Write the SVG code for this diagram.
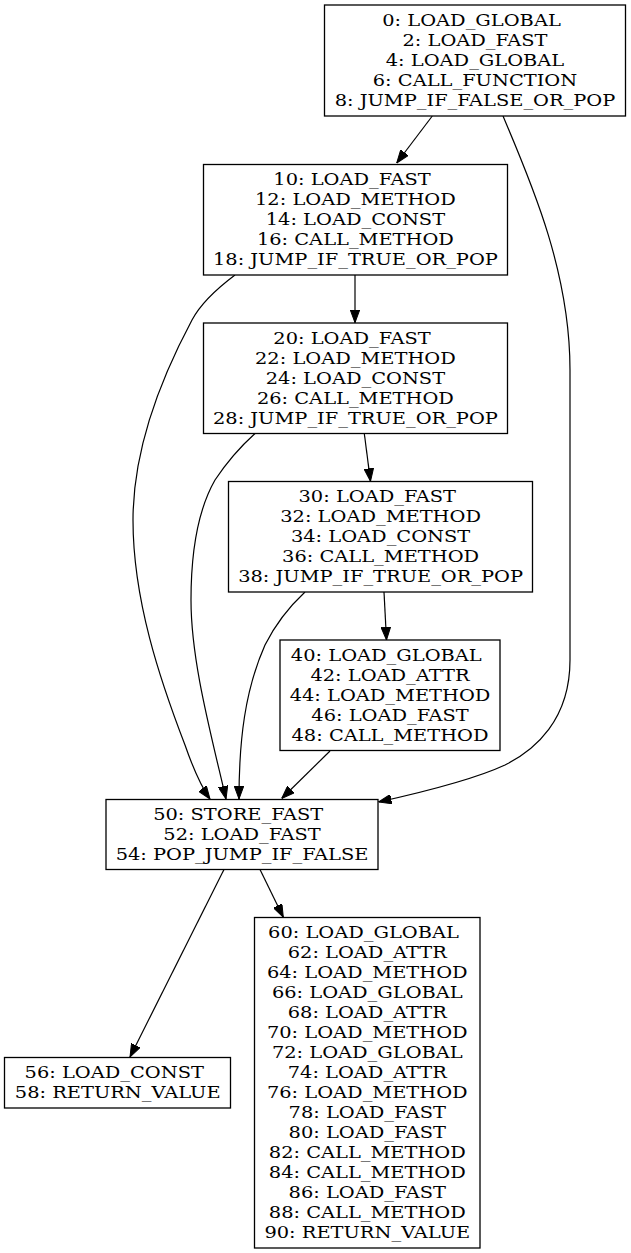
<svg xmlns="http://www.w3.org/2000/svg" width="631" height="1253" viewBox="0 0 631 1253">
<style>
.box{fill:#fff;stroke:#000;stroke-width:1.3}
.t{font-family:"DejaVu Serif","Liberation Serif",serif;font-size:17.2px;fill:#000;text-anchor:middle}
.e{fill:none;stroke:#000;stroke-width:1.2}
</style>
<defs>
<marker id="ah" viewBox="0 0 13 9.6" refX="13" refY="4.8" markerWidth="13" markerHeight="9.6" markerUnits="userSpaceOnUse" orient="auto">
<path d="M0,0 L13,4.8 L0,9.6 z" fill="#000" stroke="#000" stroke-width="1"/>
</marker>
</defs>
<rect width="631" height="1253" fill="#fff"/>
<g id="edges">
<path class="e" marker-end="url(#ah)" d="M432.3,116 L396.7,163"/>
<path class="e" marker-end="url(#ah)" d="M503,116 C530,180 570,270 570,370 L570,660 C570,720 535,750 505,765 C475,779 428,791 378.5,802"/>
<path class="e" marker-end="url(#ah)" d="M355,275 L355,322.7"/>
<path class="e" marker-end="url(#ah)" d="M235,275 C215,290 200,305 192,320 C160,380 133,450 133,520 C133,600 160,680 185,745 C193,768 200,785 210,799"/>
<path class="e" marker-end="url(#ah)" d="M255,433.5 C240,447 225,465 215,480 C195,515 191,560 191,600 C191,660 210,730 226,799"/>
<path class="e" marker-end="url(#ah)" d="M364.3,433.5 L370.5,481.3"/>
<path class="e" marker-end="url(#ah)" d="M305,592 C290,606 275,625 265,645 C245,690 239,740 239,799"/>
<path class="e" marker-end="url(#ah)" d="M384,592 L386.5,640"/>
<path class="e" marker-end="url(#ah)" d="M330,751 L281.7,798.5"/>
<path class="e" marker-end="url(#ah)" d="M224,869.5 L130,1057"/>
<path class="e" marker-end="url(#ah)" d="M260,869.5 L283.3,917.3"/>
</g>
<g id="n0">
<rect class="box" x="324.5" y="5" width="301" height="111"/>
<g transform="translate(475 0) scale(1.128 1)">
<text class="t" x="-3.1" y="26">0: LOAD_GLOBAL</text>
<text class="t" x="0" y="46">2: LOAD_FAST</text>
<text class="t" x="0" y="66">4: LOAD_GLOBAL</text>
<text class="t" x="0" y="86">6: CALL_FUNCTION</text>
<text class="t" x="0" y="106">8: JUMP_IF_FALSE_OR_POP</text>
</g>
</g>
<g id="n10">
<rect class="box" x="203.5" y="164.5" width="304" height="110.5"/>
<g transform="translate(355.4 0) scale(1.128 1)">
<text class="t" x="-3" y="185.5">10: LOAD_FAST</text>
<text class="t" x="0" y="205.5">12: LOAD_METHOD</text>
<text class="t" x="0" y="225.5">14: LOAD_CONST</text>
<text class="t" x="0" y="245.5">16: CALL_METHOD</text>
<text class="t" x="0" y="265.5">18: JUMP_IF_TRUE_OR_POP</text>
</g>
</g>
<g id="n20">
<rect class="box" x="203.5" y="323" width="304" height="110.5"/>
<g transform="translate(355.4 0) scale(1.128 1)">
<text class="t" x="-3" y="344">20: LOAD_FAST</text>
<text class="t" x="0" y="364">22: LOAD_METHOD</text>
<text class="t" x="0" y="384">24: LOAD_CONST</text>
<text class="t" x="0" y="404">26: CALL_METHOD</text>
<text class="t" x="0" y="424">28: JUMP_IF_TRUE_OR_POP</text>
</g>
</g>
<g id="n30">
<rect class="box" x="228.5" y="481.5" width="304" height="110.5"/>
<g transform="translate(380.6 0) scale(1.128 1)">
<text class="t" x="-3" y="502.5">30: LOAD_FAST</text>
<text class="t" x="0" y="522.5">32: LOAD_METHOD</text>
<text class="t" x="0" y="542.5">34: LOAD_CONST</text>
<text class="t" x="0" y="562.5">36: CALL_METHOD</text>
<text class="t" x="0" y="582.5">38: JUMP_IF_TRUE_OR_POP</text>
</g>
</g>
<g id="n40">
<rect class="box" x="280" y="640" width="220" height="110.5"/>
<g transform="translate(390 0) scale(1.128 1)">
<text class="t" x="-3.3" y="661">40: LOAD_GLOBAL</text>
<text class="t" x="0" y="681">42: LOAD_ATTR</text>
<text class="t" x="0" y="701">44: LOAD_METHOD</text>
<text class="t" x="0" y="721">46: LOAD_FAST</text>
<text class="t" x="0" y="741">48: CALL_METHOD</text>
</g>
</g>
<g id="n50">
<rect class="box" x="106" y="799.5" width="272" height="70"/>
<g transform="translate(242 0) scale(1.128 1)">
<text class="t" x="-3.4" y="820.5">50: STORE_FAST</text>
<text class="t" x="0" y="840.5">52: LOAD_FAST</text>
<text class="t" x="0" y="860.5">54: POP_JUMP_IF_FALSE</text>
</g>
</g>
<g id="n56">
<rect class="box" x="4.5" y="1057.5" width="226" height="50.5"/>
<g transform="translate(117.7 0) scale(1.128 1)">
<text class="t" x="-3.1" y="1078.5">56: LOAD_CONST</text>
<text class="t" x="0" y="1098.5">58: RETURN_VALUE</text>
</g>
</g>
<g id="n60">
<rect class="box" x="254.5" y="917.5" width="225.5" height="330.5"/>
<g transform="translate(367.3 0) scale(1.128 1)">
<text class="t" x="-3.4" y="938.5">60: LOAD_GLOBAL</text>
<text class="t" x="0" y="958.5">62: LOAD_ATTR</text>
<text class="t" x="0" y="978.5">64: LOAD_METHOD</text>
<text class="t" x="0" y="998.5">66: LOAD_GLOBAL</text>
<text class="t" x="0" y="1018.5">68: LOAD_ATTR</text>
<text class="t" x="0" y="1038.5">70: LOAD_METHOD</text>
<text class="t" x="0" y="1058.5">72: LOAD_GLOBAL</text>
<text class="t" x="0" y="1078.5">74: LOAD_ATTR</text>
<text class="t" x="0" y="1098.5">76: LOAD_METHOD</text>
<text class="t" x="0" y="1118.5">78: LOAD_FAST</text>
<text class="t" x="0" y="1138.5">80: LOAD_FAST</text>
<text class="t" x="0" y="1158.5">82: CALL_METHOD</text>
<text class="t" x="0" y="1178.5">84: CALL_METHOD</text>
<text class="t" x="0" y="1198.5">86: LOAD_FAST</text>
<text class="t" x="0" y="1218.5">88: CALL_METHOD</text>
<text class="t" x="0" y="1238.5">90: RETURN_VALUE</text>
</g>
</g>
</svg>
